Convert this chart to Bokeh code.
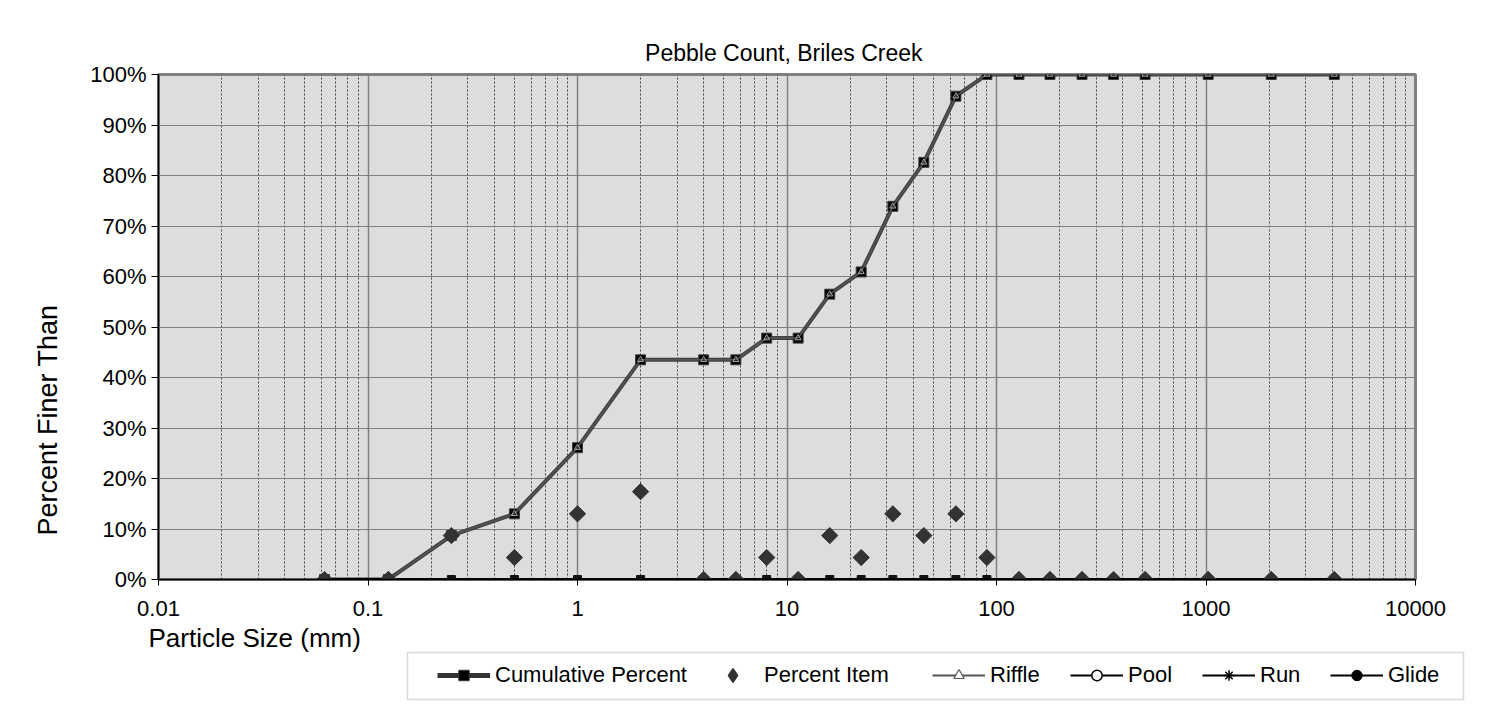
import math
from bokeh.plotting import figure
from bokeh.models import (FixedTicker, NumeralTickFormatter, CustomJSTickFormatter,
                          Legend, LegendItem, Title, Label, BoxAnnotation, Range1d)
from bokeh.embed import file_html
from bokeh.resources import INLINE

# ---------------- data ----------------
sizes_mm = [0.062, 0.125, 0.25, 0.5, 1, 2, 4, 5.7, 8, 11.3, 16, 22.6, 32, 45, 64, 90,
            128, 180, 256, 362, 512, 1024, 2048, 4096]
cumulative = [0.0, 0.0, 0.087, 0.13, 0.261, 0.435, 0.435, 0.435, 0.478, 0.478, 0.565, 0.609,
              0.739, 0.826, 0.957, 1.0, 1.0, 1.0, 1.0, 1.0, 1.0, 1.0, 1.0, 1.0]
percent_item = [0.0, 0.0, 0.087, 0.0435, 0.13, 0.174, 0.0, 0.0, 0.0435, 0.0, 0.087, 0.0435,
                0.13, 0.087, 0.13, 0.0435, 0.0, 0.0, 0.0, 0.0, 0.0, 0.0, 0.0, 0.0]
riffle = [0.0, 0.0, 0.087, 0.13, 0.261, 0.435, 0.435, 0.435, 0.478, 0.478, 0.565, 0.609,
          0.739, 0.826, 0.957, 1.0, 1.0, 1.0, 1.0, 1.0, 1.0, 1.0, 1.0, 1.0]
pool = [0.0] * len(sizes_mm)
run = [0.0] * len(sizes_mm)
glide = [0.0] * len(sizes_mm)

x_ticks = [0.01, 0.1, 1, 10, 100, 1000, 10000]
x_tick_labels = ["0.01", "0.1", "1", "10", "100", "1000", "10000"]
y_ticks = [0.0, 0.1, 0.2, 0.3, 0.4, 0.5, 0.6, 0.7, 0.8, 0.9, 1.0]

title_text = "Pebble Count,  Briles Creek"
x_title = "Particle Size (mm)"
y_title = "Percent Finer Than"
series_names = ["Cumulative Percent", "Percent Item", "Riffle", "Pool", "Run", "Glide"]

FONT = "Liberation Sans"

# ---------------- main chart ----------------
W = 1489
FL, FT, FW, FH = 158, 74, 1257, 505
H_MAIN = 629
OVERLAP = 14
H_LEG = 714 - H_MAIN + OVERLAP

p = figure(width=W, height=H_MAIN, x_axis_type="log", x_range=(0.01, 10000), y_range=(0, 1),
           output_backend="svg", toolbar_location=None, title=title_text,
           min_border_left=FL, min_border_top=FT,
           min_border_right=W - FL - FW, min_border_bottom=H_MAIN - FT - FH)

p.background_fill_color = "#DDDDDD"
p.border_fill_color = "white"
p.outline_line_color = "#808080"
p.outline_line_width = 3

p.title.align = "center"
p.title.text_font = FONT
p.title.text_font_size = "23px"
p.title.text_font_style = "normal"
p.title.text_color = "black"
p.title.standoff = 17

minor = [k * 10.0 ** e for e in range(-2, 4) for k in range(2, 10)]
p.xaxis.ticker = FixedTicker(ticks=x_ticks, minor_ticks=minor)
p.xaxis.formatter = CustomJSTickFormatter(
    args=dict(tvals=x_ticks, tlabels=x_tick_labels),
    code="""
    for (let i = 0; i < tvals.length; i++) {
        if (Math.abs(Math.log10(tvals[i]) - Math.log10(tick)) < 1e-6) return tlabels[i];
    }
    return '';
    """)
p.yaxis.ticker = FixedTicker(ticks=y_ticks)
p.yaxis.formatter = NumeralTickFormatter(format="0%")

for ax in (p.xaxis, p.yaxis):
    ax.axis_line_color = "black"
    ax.axis_line_width = 1.5
    ax.major_tick_line_color = "black"
    ax.major_tick_in = 0
    ax.minor_tick_in = 0
    ax.minor_tick_out = 0
    ax.major_label_text_font = FONT
    ax.major_label_text_font_size = "22px"
    ax.major_label_text_color = "black"

p.xaxis.major_tick_out = 6
p.xaxis.major_label_standoff = 15
p.yaxis.major_tick_out = 7
p.yaxis.major_label_standoff = 5

p.xgrid.grid_line_color = "#808080"
p.xgrid.grid_line_width = 1.5
p.xgrid.minor_grid_line_color = "#444444"
p.xgrid.minor_grid_line_width = 1
p.xgrid.minor_grid_line_dash = "2 2"
p.ygrid.grid_line_color = "#808080"
p.ygrid.grid_line_width = 1

p.add_layout(Title(text=y_title, align="left", offset=44, standoff=49,
                   text_font=FONT, text_font_size="27px", text_font_style="normal",
                   text_color="black"), "left")

# series
p.line(sizes_mm, cumulative, line_color="#404040", line_width=4)
p.scatter(sizes_mm, cumulative, marker="square", size=10,
          fill_color="black", line_color="#404040", line_width=1)
p.line(sizes_mm, riffle, line_color="#555555", line_width=1.5)
p.scatter(sizes_mm, riffle, marker="triangle", size=6,
          fill_color=None, line_color="#AAAAAA", line_width=1)
p.line(sizes_mm, pool, line_color="black", line_width=2)
p.scatter(sizes_mm, pool, marker="circle", size=7,
          fill_color="white", line_color="black", line_width=1.5)
p.line(sizes_mm, run, line_color="black", line_width=2)
p.scatter(sizes_mm, run, marker="asterisk", size=8, line_color="black", line_width=1.5)
p.line(sizes_mm, glide, line_color="black", line_width=2.5)
p.scatter(sizes_mm, glide, marker="square", size=8, fill_color="#111111", line_color="#111111")
p.scatter(sizes_mm, percent_item, marker="square", angle=math.pi / 4, size=11.5,
          fill_color="#333333", line_color="#333333")

# ---------------- legend strip (axis title + legend), slightly overlapping ----------------
lf = figure(width=W, height=H_LEG, x_range=Range1d(0, W), y_range=Range1d(0, H_LEG),
            x_axis_type=None, y_axis_type=None, output_backend="svg", toolbar_location=None,
            min_border=0, min_border_left=0, min_border_right=0,
            min_border_top=0, min_border_bottom=0,
            styles={"margin-top": f"-{OVERLAP}px"})
lf.outline_line_color = None
lf.background_fill_alpha = 0
lf.border_fill_alpha = 0
lf.grid.visible = False

# page y -> strip y: 714 - page_y
lf.add_layout(Label(x=148, y=714 - 637, text=x_title, text_font=FONT, text_font_size="26px",
                    text_align="left", text_baseline="middle", text_color="black"))
lf.add_layout(BoxAnnotation(left=407, right=1463, bottom=714 - 699, top=714 - 652,
                            fill_alpha=0, line_color="#808080", line_width=1.5))

nan = [float("nan")]
legend_groups = [
    [lf.line(nan, nan, line_color="#333333", line_width=5),
     lf.scatter(nan, nan, marker="square", fill_color="black", line_color="#333333")],
    [lf.scatter(nan, nan, marker="diamond", fill_color="#333333", line_color="#333333",
                line_width=1.5)],
    [lf.line(nan, nan, line_color="#555555", line_width=2),
     lf.scatter(nan, nan, marker="triangle", fill_color="white", line_color="#555555",
                line_width=1.2)],
    [lf.line(nan, nan, line_color="black", line_width=2),
     lf.scatter(nan, nan, marker="circle", fill_color="white", line_color="black",
                line_width=1.5)],
    [lf.line(nan, nan, line_color="black", line_width=2),
     lf.scatter(nan, nan, marker="asterisk", line_color="black", line_width=1.5)],
    [lf.line(nan, nan, line_color="black", line_width=2),
     lf.scatter(nan, nan, marker="circle", fill_color="black", line_color="black")],
]
legend_x = [437, 706, 932, 1070, 1202, 1330]
legend_h = [26, 34, 26, 26, 26, 26]
for name, rends, lx, gh in zip(series_names, legend_groups, legend_x, legend_h):
    lf.add_layout(Legend(items=[LegendItem(label=name, renderers=rends)],
                         location=(lx, 714 - (675 + gh / 2)), orientation="horizontal",
                         padding=0, margin=0, spacing=0,
                         glyph_width=53, glyph_height=gh, label_height=gh, label_standoff=5,
                         label_text_font=FONT, label_text_font_size="22px",
                         label_text_color="black",
                         border_line_alpha=0, background_fill_alpha=0))

open("out.html", "w").write(file_html([p, lf], INLINE))
